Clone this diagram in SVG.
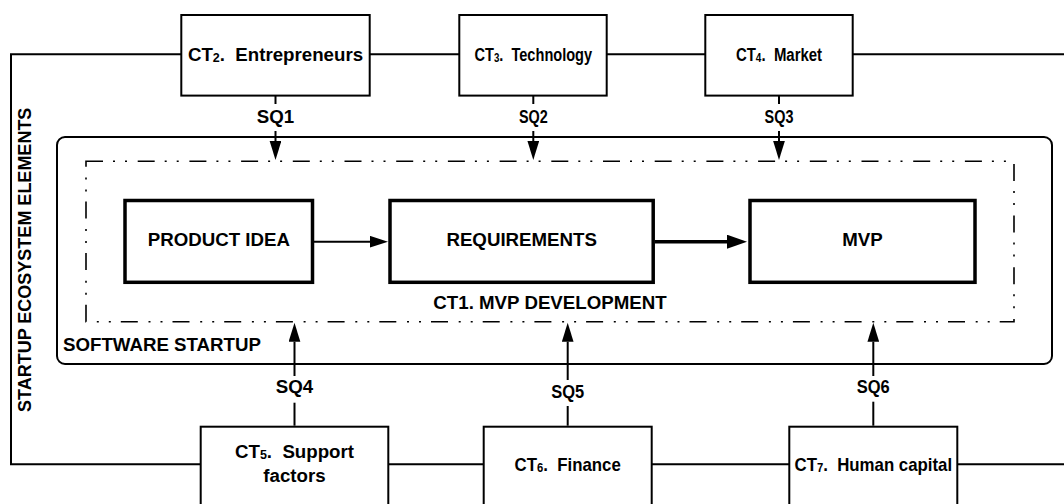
<svg xmlns="http://www.w3.org/2000/svg" width="1064" height="504" viewBox="0 0 1064 504">
  <style>
    .txt { font-family: "Liberation Sans", Arial, Helvetica, sans-serif; font-weight: bold; font-size: 18.7px; fill: #000; text-anchor: middle; }
    .left { text-anchor: start; }
    .sub { font-size: 12.5px; }
    .box { fill: #fff; stroke: #000; stroke-width: 2; }
    .main { fill: #fff; stroke: #000; stroke-width: 3.5; }
    .frame { fill: none; stroke: #000; stroke-width: 2; }
    .dashframe { fill: none; stroke: #000; stroke-width: 1.6; stroke-dasharray: 17 10 2 10 2 10.7; }
    .wire { fill: none; stroke: #000; stroke-width: 2; }
    .link { fill: none; stroke: #000; stroke-width: 2; }
    .link-thick { fill: none; stroke: #000; stroke-width: 3.5; }
  </style>
  <defs>
    <marker id="headV" markerUnits="userSpaceOnUse" markerWidth="20" markerHeight="12" refX="0" refY="5.85" orient="auto">
      <path d="M0,0 L19,5.85 L0,11.7 z" fill="#000"/>
    </marker>
    <marker id="headH" markerUnits="userSpaceOnUse" markerWidth="18" markerHeight="12" refX="0" refY="5.85" orient="auto">
      <path d="M0,0 L18,5.85 L0,11.7 z" fill="#000"/>
    </marker>
    <marker id="headThick" markerUnits="userSpaceOnUse" markerWidth="21" markerHeight="14" refX="0" refY="7" orient="auto">
      <path d="M0,0 L20,7 L0,14 z" fill="#000"/>
    </marker>
  </defs>

  <rect width="1064" height="504" fill="#fff"/>

  <!-- ecosystem ring: wires joining the outer elements -->
  <g id="connectors">
    <path class="wire" d="M1064,54.3 H11 V464.3 H1064"/>

    <!-- SQ1..SQ3: top elements into MVP development -->
    <line class="link" x1="275.5" y1="96" x2="275.5" y2="104"/>
    <line class="link" x1="275.5" y1="131" x2="275.5" y2="141" marker-end="url(#headV)"/>
    <line class="link" x1="533.3" y1="96" x2="533.3" y2="104"/>
    <line class="link" x1="533.3" y1="131" x2="533.3" y2="141" marker-end="url(#headV)"/>
    <line class="link" x1="779" y1="96" x2="779" y2="104"/>
    <line class="link" x1="779" y1="131" x2="779" y2="141" marker-end="url(#headV)"/>

    <!-- SQ4..SQ6: bottom elements into MVP development -->
    <line class="link" x1="294.5" y1="425.7" x2="294.5" y2="402.7"/>
    <line class="link" x1="294.5" y1="376" x2="294.5" y2="341.7" marker-end="url(#headV)"/>
    <line class="link" x1="567.7" y1="425.7" x2="567.7" y2="406"/>
    <line class="link" x1="567.7" y1="380" x2="567.7" y2="341.7" marker-end="url(#headV)"/>
    <line class="link" x1="873.3" y1="425.7" x2="873.3" y2="401.7"/>
    <line class="link" x1="873.3" y1="376" x2="873.3" y2="341.7" marker-end="url(#headV)"/>

    <!-- development flow -->
    <line class="link" x1="314" y1="241.7" x2="370" y2="241.7" marker-end="url(#headH)"/>
    <line class="link-thick" x1="655" y1="241.7" x2="727" y2="241.7" marker-end="url(#headThick)"/>

    <!-- question labels -->
    <text class="txt" x="275.5" y="122.7">SQ1</text>
    <text class="txt" transform="translate(533.3,122.7) scale(0.77,1)">SQ2</text>
    <text class="txt" transform="translate(779,122.7) scale(0.77,1)">SQ3</text>
    <text class="txt" x="294.5" y="393.3">SQ4</text>
    <text class="txt" transform="translate(567.7,398) scale(0.88,1)">SQ5</text>
    <text class="txt" transform="translate(873.3,393.3) scale(0.88,1)">SQ6</text>
  </g>

  <g id="ecosystem-label">
    <text class="txt" style="font-size:18px" transform="translate(30.7,259.8) rotate(-90)">STARTUP ECOSYSTEM ELEMENTS</text>
  </g>

  <g id="software-startup">
    <rect class="frame" x="57" y="137" width="995" height="227" rx="8" ry="8"/>
    <text class="txt left" x="63" y="351">SOFTWARE STARTUP</text>
  </g>

  <g id="mvp-development">
    <rect class="dashframe" x="86" y="161.3" width="928" height="160.4"/>
    <text class="txt" x="550" y="309">CT1. MVP DEVELOPMENT</text>
  </g>

  <g id="product-idea">
    <rect class="main" x="125" y="200.5" width="187.5" height="81.8"/>
    <text class="txt" x="218.8" y="246">PRODUCT IDEA</text>
  </g>

  <g id="requirements">
    <rect class="main" x="390" y="200.5" width="263.2" height="81.8"/>
    <text class="txt" x="521.7" y="246">REQUIREMENTS</text>
  </g>

  <g id="mvp">
    <rect class="main" x="750" y="200.5" width="225" height="81.8"/>
    <text class="txt" x="862.5" y="246">MVP</text>
  </g>

  <g id="ct2-entrepreneurs">
    <rect class="box" x="181.3" y="15" width="188.4" height="80.6"/>
    <text class="txt" x="275.5" y="60.5">CT<tspan class="sub" dy="1">2</tspan><tspan dy="-1">.&#160; Entrepreneurs</tspan></text>
  </g>

  <g id="ct3-technology">
    <rect class="box" x="459.3" y="15" width="147.4" height="80.6"/>
    <text class="txt" transform="translate(533.3,60.5) scale(0.78,1)">CT<tspan class="sub" dy="1">3</tspan><tspan dy="-1">.&#160; Technology</tspan></text>
  </g>

  <g id="ct4-market">
    <rect class="box" x="705.3" y="15" width="147.4" height="80.6"/>
    <text class="txt" transform="translate(779,60.5) scale(0.8,1)">CT<tspan class="sub" dy="1">4</tspan><tspan dy="-1">.&#160; Market</tspan></text>
  </g>

  <g id="ct5-support-factors">
    <rect class="box" x="200.7" y="426.7" width="187.6" height="100"/>
    <text class="txt" x="294.5" y="458.3">CT<tspan class="sub" dy="1">5</tspan><tspan dy="-1">.&#160; Support</tspan></text>
    <text class="txt" x="294.5" y="481.7">factors</text>
  </g>

  <g id="ct6-finance">
    <rect class="box" x="483.7" y="426.7" width="168" height="100"/>
    <text class="txt" transform="translate(567.7,471) scale(0.9,1)">CT<tspan class="sub" dy="1">6</tspan><tspan dy="-1">.&#160; Finance</tspan></text>
  </g>

  <g id="ct7-human-capital">
    <rect class="box" x="789.3" y="426.7" width="168" height="100"/>
    <text class="txt" transform="translate(873.3,471) scale(0.9,1)">CT<tspan class="sub" dy="1">7</tspan><tspan dy="-1">.&#160; Human capital</tspan></text>
  </g>
</svg>
